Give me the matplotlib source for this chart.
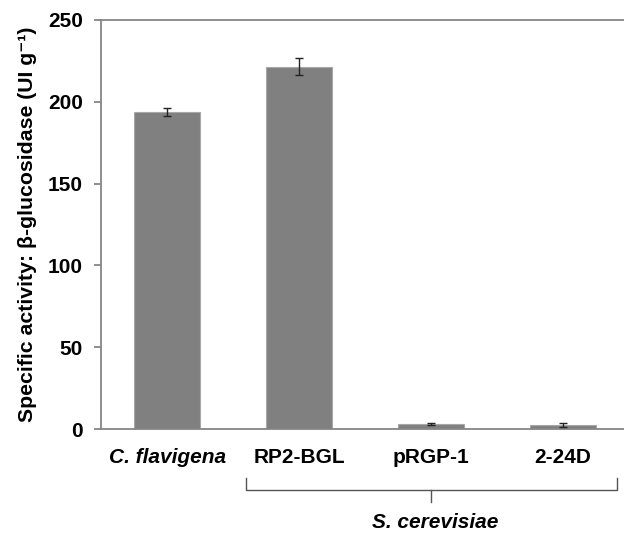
import matplotlib.pyplot as plt
import matplotlib.transforms as mtransforms

strains = ["C. flavigena", "RP2-BGL", "pRGP-1", "2-24D"]
activity = [194.0, 221.5, 3.0, 2.5]
errors = [2.5, 5.0, 0.6, 1.0]
group_label = "S. cerevisiae"

plt.rcParams["font.family"] = ["Liberation Sans", "DejaVu Sans"]
plt.rcParams["font.weight"] = "bold"

fig = plt.figure(figsize=(6.24, 5.36), dpi=100)
ax = fig.add_axes([0.162, 0.1996, 0.846, 0.7631])

x = list(range(len(strains)))
ax.bar(x, activity, width=0.505, color="#808080", edgecolor="#a8a8a8", linewidth=0.8, zorder=2)
ax.errorbar(x, activity, yerr=errors, fmt="none", ecolor="#222222", elinewidth=1.0,
            capsize=3, capthick=1.0, zorder=3)

ax.set_xlim(-0.5, 3.5)
ax.set_ylim(0, 250)
ax.set_yticks([0, 50, 100, 150, 200, 250])

for side in ["top", "left", "bottom"]:
    ax.spines[side].set_color("#868686")
    ax.spines[side].set_linewidth(1.3)
ax.spines["right"].set_visible(False)

ax.tick_params(axis="y", direction="out", length=5, width=1.3, color="#868686",
               labelsize=15, pad=8)
ax.tick_params(axis="x", length=0, labelsize=15, pad=14)
ax.set_xticks(x)
ax.set_xticklabels(strains, fontweight="bold")
ax.get_xticklabels()[0].set_fontstyle("italic")

ax.set_ylabel("Specific activity: β-glucosidase (UI g⁻¹)", fontsize=15.3,
              fontweight="bold", labelpad=8)

# bracket under the S. cerevisiae strains
trans = mtransforms.blended_transform_factory(ax.transData, fig.transFigure)
yb = 1 - 490 / 536
yh = 1 - 478 / 536
yc = 1 - 502 / 536
ax.plot([0.6, 0.6, 3.41, 3.41], [yh, yb, yb, yh], transform=trans, color="#555555",
        linewidth=1.0, clip_on=False)
ax.plot([2.0, 2.0], [yb, yc], transform=trans, color="#555555", linewidth=1.0, clip_on=False)
ax.text(2.03, 1 - 522 / 536, group_label, transform=trans, ha="center", va="center",
        fontsize=15, fontweight="bold", fontstyle="italic")

fig.savefig("out.png", dpi=100)
